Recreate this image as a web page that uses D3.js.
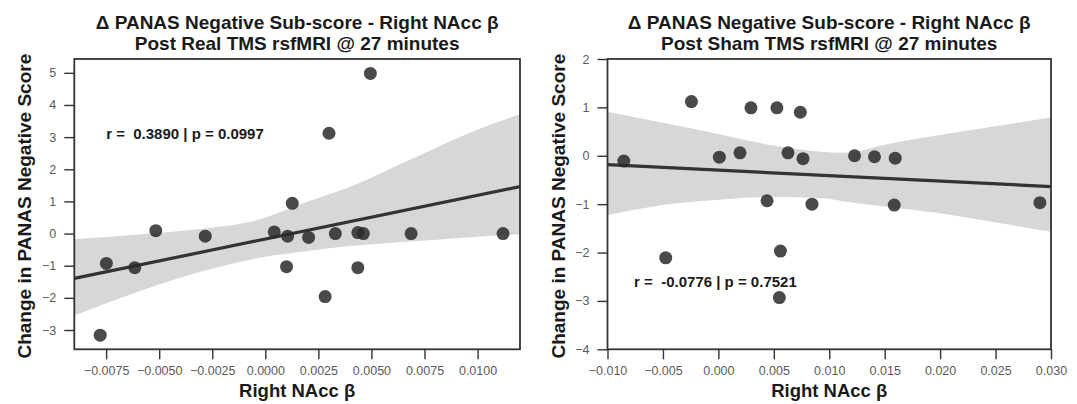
<!DOCTYPE html>
<html>
<head>
<meta charset="utf-8">
<script src="https://cdn.jsdelivr.net/npm/d3@7"></script>
<style>
  body { margin: 0; background: #fff; }
  svg { display: block; font-family: "Liberation Sans", Arial, sans-serif; }
</style>
</head>
<body>
<svg id="chart" width="1077" height="404"></svg>
<script>
// Post Real TMS: Right NAcc beta vs change in PANAS negative score
const realBeta  = [-0.00778, -0.00749, -0.00615, -0.00516, -0.00283, 0.00042, 0.00100, 0.00105, 0.00127, 0.00204,
                   0.00282, 0.00300, 0.00330, 0.00436, 0.00436, 0.00462, 0.00495, 0.00687, 0.01120];
const realScore = [-3.16, -0.93, -1.06, 0.09, -0.08, 0.05, -1.03, -0.08, 0.94, -0.12,
                   -1.96, 3.12, 0.00, 0.03, -1.06, 0.00, 4.98, 0.00, 0.00];

// Post Sham TMS
const shamBeta  = [-0.00853, -0.00475, -0.00243, 0.00009, 0.00195, 0.00294, 0.00439, 0.00528, 0.00550, 0.00560,
                   0.00628, 0.00739, 0.00763, 0.00844, 0.01228, 0.01408, 0.01586, 0.01595, 0.02900];
const shamScore = [-0.11, -2.11, 1.12, -0.03, 0.06, 0.99, -0.93, 0.99, -2.93, -1.97,
                   0.06, 0.90, -0.06, -1.00, 0.00, -0.02, -1.02, -0.05, -0.97];

// confidence band edges
const realBandX  = [-0.009, -0.006, -0.003, -0.0005, 0.002, 0.004, 0.007, 0.0095, 0.012];
const realBandHi = [-0.18, -0.03, 0.15, 0.40, 1.00, 1.46, 2.35, 3.10, 3.71];
const realBandLo = [-2.55, -1.81, -1.18, -0.78, -0.54, -0.39, -0.24, -0.12, -0.02];

const shamBandX  = [-0.010, -0.005, 0.000, 0.005, 0.0095, 0.0115, 0.015, 0.020, 0.025, 0.030];
const shamBandHi = [0.91, 0.68, 0.45, 0.21, 0.08, 0.06, 0.23, 0.43, 0.61, 0.79];
const shamBandLo = [-1.23, -1.02, -0.91, -0.85, -0.88, -0.95, -1.05, -1.19, -1.38, -1.57];

// axes
const realXDomain = [-0.009, 0.012];
const realYDomain = [-3.6, 5.43];
const realXTicks = [-0.0075, -0.005, -0.0025, 0, 0.0025, 0.005, 0.0075, 0.01];
const realYTicks = [-3, -2, -1, 0, 1, 2, 3, 4, 5];

const shamXDomain = [-0.010, 0.030];
const shamYDomain = [-4, 2];
const shamXTicks = [-0.010, -0.005, 0, 0.005, 0.010, 0.015, 0.020, 0.025, 0.030];
const shamYTicks = [-4, -3, -2, -1, 0, 1, 2];

const realTitle = ["Δ PANAS Negative Sub-score - Right NAcc β", "Post Real TMS rsfMRI @ 27 minutes"];
const shamTitle = ["Δ PANAS Negative Sub-score - Right NAcc β", "Post Sham TMS rsfMRI @ 27 minutes"];
const realStat = "r =  0.3890 | p = 0.0997";
const shamStat = "r =  -0.0776 | p = 0.7521";
const realStatAt = [-0.0075, 3.12];
const shamStatAt = [-0.0076, -2.61];

const xLabel = "Right NAcc β";
const yLabel = "Change in PANAS Negative Score";

const svg = d3.select("#chart");
const plotTop = 59, plotBottom = 349.3;

function leastSquares(xs, ys) {
    const mx = d3.mean(xs), my = d3.mean(ys);
    let sxy = 0, sxx = 0;
    xs.forEach((x, i) => { sxy += (x - mx) * (ys[i] - my); sxx += (x - mx) * (x - mx); });
    const slope = sxy / sxx;
    return x => my + slope * (x - mx);
}

// draws one regression panel
function drawPanel(id, left, right, o) {
    const g = svg.append("g");
    const x = d3.scaleLinear().domain(o.xDomain).range([left, right]);
    const y = d3.scaleLinear().domain(o.yDomain).range([plotBottom, plotTop]);

    g.append("clipPath").attr("id", id)
      .append("rect").attr("x", left).attr("y", plotTop)
      .attr("width", right - left).attr("height", plotBottom - plotTop);

    const plot = g.append("g").attr("clip-path", `url(#${id})`);

    const area = d3.area()
        .x((d, i) => x(o.bandX[i]))
        .y0((d, i) => y(o.bandLo[i]))
        .y1((d, i) => y(o.bandHi[i]))
        .curve(d3.curveMonotoneX);
    plot.append("path")
        .attr("d", area(o.bandX))
        .style("fill", "#d7d7d7");

    const fit = leastSquares(o.xs, o.ys);
    plot.append("line")
        .attr("x1", x(o.xDomain[0])).attr("y1", y(fit(o.xDomain[0])))
        .attr("x2", x(o.xDomain[1])).attr("y2", y(fit(o.xDomain[1])))
        .style("stroke", "#333")
        .style("stroke-width", 3.2);

    plot.selectAll("circle")
        .data(o.xs)
        .enter()
        .append("circle")
        .attr("cx", d => x(d))
        .attr("cy", (d, i) => y(o.ys[i]))
        .attr("r", 6.5)
        .style("fill", "#2a2a2a")
        .style("fill-opacity", 0.85);

    const xAxis = g.append("g")
        .attr("transform", `translate(0,${plotBottom})`)
        .call(d3.axisBottom(x).tickValues(o.xTicks).tickFormat(d3.format(o.xFormat)).tickSize(10).tickPadding(7));
    const yAxis = g.append("g")
        .attr("transform", `translate(${left},0)`)
        .call(d3.axisLeft(y).tickValues(o.yTicks).tickFormat(d3.format("d")).tickSize(10).tickPadding(8));
    [xAxis, yAxis].forEach(a => {
        a.select(".domain").remove();
        a.selectAll(".tick line").style("stroke", "#333").style("stroke-width", 1.4);
        a.selectAll(".tick text").style("fill", "#5a5a5a").style("font-size", "12.5px");
    });

    g.append("rect")
        .attr("x", left).attr("y", plotTop)
        .attr("width", right - left).attr("height", plotBottom - plotTop)
        .style("fill", "none")
        .style("stroke", "#333")
        .style("stroke-width", 1.8);

    g.append("text")
        .attr("x", x(o.statAt[0])).attr("y", y(o.statAt[1]))
        .attr("dy", "0.35em")
        .style("white-space", "pre")
        .style("font-weight", "bold")
        .style("font-size", "15px")
        .style("fill", "#1a1a1a")
        .text(o.stat);

    const cx = (left + right) / 2;
    g.selectAll(".title")
        .data(o.title)
        .enter()
        .append("text")
        .attr("x", cx)
        .attr("y", (d, i) => 29 + i * 20.5)
        .attr("text-anchor", "middle")
        .style("font-weight", "bold")
        .style("font-size", "19px")
        .style("fill", "#1a1a1a")
        .text(d => d);

    g.append("text")
        .attr("x", cx).attr("y", 397)
        .attr("text-anchor", "middle")
        .style("font-weight", "bold")
        .style("font-size", "18.5px")
        .style("fill", "#1a1a1a")
        .text(xLabel);

    g.append("text")
        .attr("transform", `translate(${left - 43},${(plotTop + plotBottom) / 2 + 2}) rotate(-90)`)
        .attr("text-anchor", "middle")
        .style("font-weight", "bold")
        .style("font-size", "19px")
        .style("fill", "#1a1a1a")
        .text(yLabel);
}

drawPanel("clipReal", 74.3, 520, {
    xs: realBeta, ys: realScore,
    xDomain: realXDomain, yDomain: realYDomain,
    xTicks: realXTicks, yTicks: realYTicks, xFormat: ".4f",
    bandX: realBandX, bandLo: realBandLo, bandHi: realBandHi,
    title: realTitle, stat: realStat, statAt: realStatAt
});

drawPanel("clipSham", 607.5, 1051, {
    xs: shamBeta, ys: shamScore,
    xDomain: shamXDomain, yDomain: shamYDomain,
    xTicks: shamXTicks, yTicks: shamYTicks, xFormat: ".3f",
    bandX: shamBandX, bandLo: shamBandLo, bandHi: shamBandHi,
    title: shamTitle, stat: shamStat, statAt: shamStatAt
});
</script>
</body>
</html>
